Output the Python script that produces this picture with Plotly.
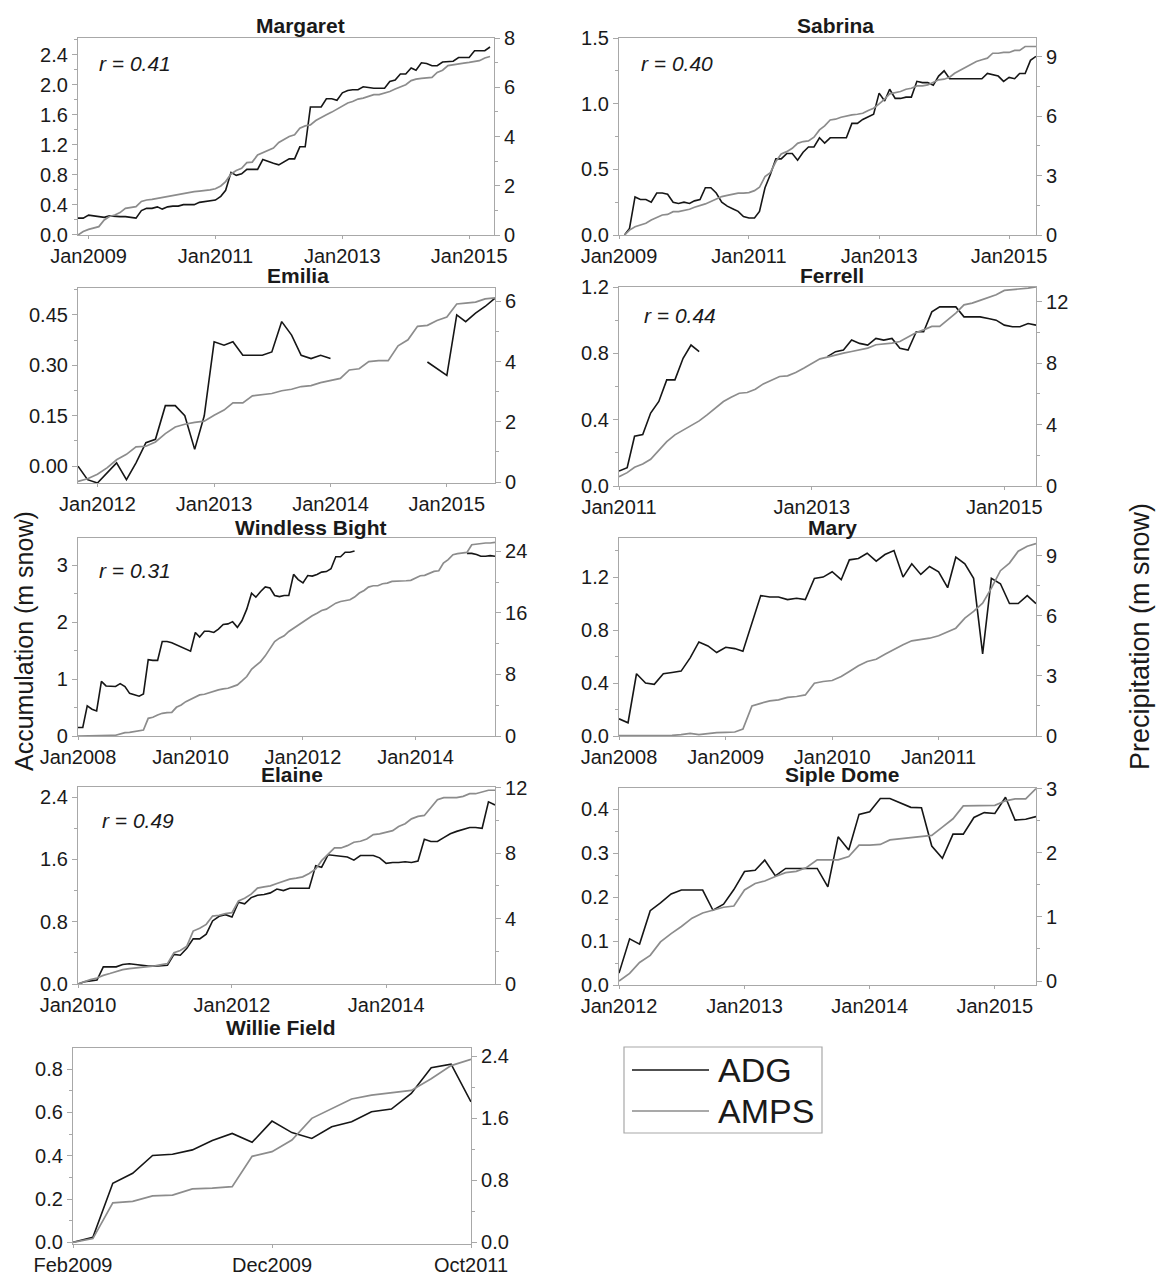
import plotly.graph_objects as go
import pandas as pd

W, H = 1161, 1275

# ------------------------------------------------------------------ data
# Margaret: monthly from Nov 2008
margaret_start = "2008-11-01"
margaret_adg = [0.22, 0.22, 0.26, 0.25, 0.25, 0.23, 0.25, 0.24, 0.24, 0.24, 0.23, 0.22, 0.32, 0.35,
                0.35, 0.37, 0.34, 0.37, 0.38, 0.38, 0.40, 0.40, 0.40, 0.43, 0.44, 0.44,
                0.46, 0.51, 0.59, 0.83, 0.79, 0.81, 0.87, 0.87, 0.87, 1.00, 0.97, 0.95,
                0.93, 0.97, 1.01, 1.01, 1.17, 1.17, 1.70, 1.70, 1.70, 1.81, 1.81, 1.79,
                1.89, 1.92, 1.93, 1.93, 1.97, 1.96, 1.95, 1.95, 1.95, 2.04, 2.06, 2.14,
                2.14, 2.22, 2.19, 2.29, 2.28, 2.25, 2.25, 2.30, 2.31, 2.31, 2.36, 2.36,
                2.36, 2.45, 2.45, 2.45, 2.50]
margaret_amps = [0.00, 0.14, 0.23, 0.30, 0.34, 0.61, 0.75, 0.81, 0.91, 1.08, 1.10, 1.15, 1.36, 1.42,
                 1.45, 1.49, 1.52, 1.59, 1.61, 1.64, 1.70, 1.72, 1.76, 1.78, 1.79, 1.83,
                 1.88, 1.99, 2.17, 2.48, 2.62, 2.71, 2.94, 2.96, 3.25, 3.35, 3.43, 3.53,
                 3.76, 3.89, 4.00, 4.07, 4.34, 4.43, 4.47, 4.65, 4.75, 4.88, 4.99, 5.11,
                 5.25, 5.36, 5.42, 5.52, 5.56, 5.63, 5.70, 5.70, 5.76, 5.83, 5.93, 6.01,
                 6.10, 6.27, 6.33, 6.36, 6.37, 6.40, 6.60, 6.69, 6.88, 6.92, 6.96, 6.98,
                 7.01, 7.05, 7.08, 7.19, 7.25]

# Sabrina: monthly from Feb 2009
sabrina_start = "2009-02-01"
sabrina_adg = [0.00, 0.05, 0.29, 0.27, 0.27, 0.25, 0.32, 0.32, 0.31, 0.25, 0.24,
               0.25, 0.24, 0.26, 0.27, 0.36, 0.36, 0.32, 0.25, 0.22, 0.20, 0.18, 0.14,
               0.13, 0.13, 0.18, 0.36, 0.46, 0.58, 0.58, 0.62, 0.62, 0.57, 0.63, 0.67,
               0.67, 0.74, 0.70, 0.74, 0.74, 0.74, 0.74, 0.85, 0.85, 0.88, 0.90, 0.92,
               1.08, 1.02, 1.11, 1.04, 1.04, 1.05, 1.05, 1.17, 1.16, 1.16, 1.14, 1.21,
               1.25, 1.19, 1.19, 1.19, 1.19, 1.19, 1.19, 1.19, 1.23, 1.22, 1.21, 1.17,
               1.20, 1.19, 1.23, 1.23, 1.33, 1.36]
sabrina_amps = [0.00, 0.25, 0.42, 0.49, 0.59, 0.76, 0.89, 1.01, 1.04, 1.18, 1.18,
                1.23, 1.30, 1.40, 1.47, 1.57, 1.69, 1.80, 1.94, 2.00, 2.07, 2.11, 2.11,
                2.14, 2.24, 2.41, 2.95, 3.15, 3.71, 4.09, 4.21, 4.38, 4.63, 4.72, 4.75,
                4.94, 5.31, 5.51, 5.81, 5.85, 5.95, 6.02, 6.07, 6.10, 6.15, 6.29, 6.40,
                6.62, 6.86, 7.13, 7.20, 7.25, 7.36, 7.41, 7.53, 7.53, 7.58, 7.70, 7.84,
                7.87, 7.97, 8.17, 8.31, 8.48, 8.59, 8.76, 8.85, 8.93, 9.18, 9.18, 9.22,
                9.22, 9.32, 9.32, 9.52, 9.52, 9.52]

# Emilia: monthly from Nov 2011 (ADG gap Feb-Oct 2014)
emilia_start = "2011-11-01"
emilia_adg = [0.00, -0.04, -0.05, -0.02, 0.01, -0.04, 0.01, 0.07, 0.08, 0.18, 0.18, 0.15, 0.05, 0.15,
              0.37, 0.36, 0.37, 0.33, 0.33, 0.33, 0.34, 0.43, 0.39, 0.33, 0.32, 0.33,
              0.32, None, None, None, None, None, None, None, None, None, 0.31, 0.29,
              0.27, 0.45, 0.43, 0.455, 0.475, 0.50]
emilia_amps = [0.02, 0.11, 0.26, 0.48, 0.74, 0.92, 1.17, 1.19, 1.33, 1.61, 1.83, 1.92, 1.98, 2.02,
               2.22, 2.39, 2.63, 2.63, 2.86, 2.89, 2.94, 3.03, 3.08, 3.17, 3.20, 3.30,
               3.37, 3.44, 3.72, 3.76, 4.00, 4.03, 4.03, 4.52, 4.72, 5.17, 5.20, 5.36,
               5.48, 5.91, 5.94, 5.97, 6.08, 6.11]

# Ferrell: monthly from Jan 2011 (ADG gap Dec 2011 - Feb 2013)
ferrell_start = "2011-01-01"
ferrell_adg = [0.09, 0.11, 0.30, 0.31, 0.44, 0.51, 0.64, 0.64, 0.77, 0.85, 0.81,
               None, None, None, None, None, None, None, None, None, None, None, None, None, None, None,
               0.78, 0.81, 0.82, 0.88, 0.86, 0.85, 0.89, 0.88, 0.89, 0.83,
               0.82, 0.93, 0.93, 1.05, 1.08, 1.08, 1.08, 1.02, 1.02, 1.02, 1.01, 1.00,
               0.97, 0.96, 0.96, 0.98, 0.97]
ferrell_amps = [0.61, 0.87, 1.22, 1.43, 1.74, 2.35, 2.89, 3.33, 3.65, 3.93, 4.24, 4.63,
                5.07, 5.50, 5.78, 6.04, 6.09, 6.30, 6.65, 6.91, 7.13, 7.17, 7.39, 7.67,
                7.96, 8.28, 8.39, 8.54, 8.65, 8.76, 8.87, 8.98, 9.20, 9.26, 9.30, 9.41,
                9.70, 10.00, 10.17, 10.39, 10.39, 10.83, 11.26, 11.80, 11.91, 12.09, 12.30, 12.46,
                12.74, 12.78, 12.83, 12.89, 12.96]

# Windless Bight: monthly from Jan 2008 (ADG gap Jan 2013 - Nov 2014)
windless_start = "2008-01-01"
windless_adg = [0.15, 0.15, 0.53, 0.47, 0.44, 0.96, 0.88, 0.87, 0.87, 0.92, 0.87, 0.75,
                0.72, 0.70, 0.74, 1.34, 1.33, 1.33, 1.66, 1.66, 1.64, 1.60, 1.57, 1.53,
                1.49, 1.82, 1.74, 1.84, 1.84, 1.82, 1.88, 1.96, 1.97, 2.01, 1.91, 2.03,
                2.23, 2.51, 2.44, 2.54, 2.62, 2.60, 2.47, 2.45, 2.47, 2.47, 2.84, 2.75,
                2.69, 2.82, 2.81, 2.84, 2.88, 2.89, 2.94, 3.15, 3.15, 3.23, 3.23, 3.25,
                None, None, None, None, None, None, None, None, None, None, None, None,
                None, None, None, None, None, None, None, None, None, None, None,
                3.21, 3.21, 3.19, 3.16, 3.16, 3.17, 3.16]
windless_amps = [0.00, 0.00, 0.00, 0.00, 0.00, 0.02, 0.05, 0.08, 0.10, 0.26, 0.43, 0.48,
                 0.56, 0.65, 0.78, 2.30, 2.43, 2.73, 2.95, 3.04, 3.08, 3.73, 4.04, 4.47,
                 4.77, 5.12, 5.34, 5.43, 5.64, 5.77, 5.99, 6.12, 6.21, 6.42, 6.64, 7.16,
                 7.73, 8.68, 9.11, 9.68, 10.42, 11.41, 12.28, 12.72, 13.02, 13.59, 14.02, 14.45,
                 14.89, 15.32, 15.63, 15.97, 16.32, 16.49, 16.93, 17.27, 17.49, 17.62, 17.71, 18.06,
                 18.58, 18.92, 19.36, 19.53, 19.53, 19.79, 19.88, 20.10, 20.10, 20.18, 20.18, 20.23,
                 20.53, 20.83, 20.88, 21.18, 21.40, 21.48, 22.48, 22.92, 23.57, 23.70, 23.78, 23.87,
                 24.87, 24.96, 25.00, 25.09, 25.09, 25.17]

# Mary: monthly from Jan 2008
mary_start = "2008-01-01"
mary_adg = [0.13, 0.10, 0.47, 0.40, 0.39, 0.47, 0.48, 0.49, 0.59, 0.71, 0.68, 0.63,
            0.67, 0.66, 0.64, 0.85, 1.06, 1.05, 1.05, 1.03, 1.04, 1.03, 1.19, 1.20,
            1.24, 1.18, 1.33, 1.34, 1.38, 1.32, 1.37, 1.40, 1.20, 1.30, 1.22, 1.28,
            1.24, 1.12, 1.35, 1.30, 1.19, 0.62, 1.19, 1.15, 1.00, 1.00, 1.06, 1.00]
mary_amps = [0.02, 0.02, 0.02, 0.03, 0.03, 0.03, 0.03, 0.07, 0.13, 0.07, 0.12, 0.17,
             0.18, 0.20, 0.35, 1.50, 1.63, 1.75, 1.80, 1.93, 1.97, 2.05, 2.63, 2.72,
             2.77, 2.97, 3.22, 3.50, 3.72, 3.83, 4.08, 4.33, 4.55, 4.75, 4.80, 4.88,
             5.00, 5.22, 5.38, 5.88, 6.22, 6.63, 7.38, 8.25, 8.63, 9.22, 9.47, 9.60]

# Elaine: monthly from Jan 2010
elaine_start = "2010-01-01"
elaine_adg = [0.00, 0.03, 0.04, 0.05, 0.22, 0.22, 0.22, 0.25, 0.26, 0.25, 0.24, 0.23,
              0.23, 0.24, 0.24, 0.38, 0.37, 0.46, 0.58, 0.58, 0.64, 0.81, 0.87, 0.89,
              0.86, 1.05, 1.03, 1.11, 1.14, 1.15, 1.17, 1.22, 1.20, 1.23, 1.23, 1.23,
              1.23, 1.52, 1.50, 1.66, 1.65, 1.64, 1.63, 1.59, 1.65, 1.65, 1.65, 1.62,
              1.55, 1.56, 1.56, 1.57, 1.56, 1.58, 1.86, 1.83, 1.83, 1.88, 1.93, 1.96,
              1.99, 2.01, 2.01, 2.00, 2.34, 2.30]
elaine_amps = [0.00, 0.16, 0.27, 0.37, 0.53, 0.64, 0.78, 0.88, 0.94, 0.98, 1.03, 1.05,
               1.11, 1.19, 1.25, 1.91, 2.05, 2.32, 3.24, 3.41, 3.65, 4.16, 4.21, 4.31,
               4.37, 5.09, 5.25, 5.50, 5.87, 5.95, 6.01, 6.15, 6.28, 6.42, 6.48, 6.56,
               6.77, 7.04, 7.55, 7.96, 8.33, 8.33, 8.47, 8.68, 8.74, 8.88, 9.15, 9.19,
               9.29, 9.39, 9.64, 9.81, 10.11, 10.26, 10.32, 10.79, 11.28, 11.41, 11.41, 11.41,
               11.49, 11.65, 11.65, 11.75, 11.86, 11.86]

# Siple Dome: monthly from Jan 2012
siple_start = "2012-01-01"
siple_adg = [0.027, 0.105, 0.093, 0.169, 0.187, 0.207, 0.216, 0.216, 0.216, 0.170, 0.184, 0.217,
             0.258, 0.261, 0.284, 0.248, 0.265, 0.265, 0.265, 0.265, 0.223, 0.337, 0.307, 0.388,
             0.394, 0.424, 0.424, 0.413, 0.404, 0.403, 0.316, 0.288, 0.343, 0.343, 0.381, 0.392,
             0.390, 0.427, 0.375, 0.377, 0.383]
siple_amps = [0.00, 0.12, 0.29, 0.40, 0.61, 0.74, 0.85, 0.98, 1.06, 1.11, 1.15, 1.17,
              1.42, 1.52, 1.56, 1.63, 1.69, 1.71, 1.77, 1.89, 1.89, 1.89, 1.94, 2.12,
              2.12, 2.13, 2.20, 2.22, 2.23, 2.26, 2.27, 2.40, 2.53, 2.73, 2.73, 2.74,
              2.74, 2.81, 2.84, 2.84, 3.00]

# Willie Field: irregular samples plotted by index
willie_ticktext = ["Feb2009", "Dec2009", "Oct2011"]
willie_tickidx = [0, 10, 20]
willie_adg = [0.000, 0.023, 0.273, 0.319, 0.401, 0.407, 0.427, 0.470, 0.503, 0.462, 0.560,
              0.507, 0.480, 0.534, 0.557, 0.603, 0.616, 0.688, 0.807, 0.823, 0.649]
willie_amps = [0.00, 0.05, 0.51, 0.53, 0.60, 0.61, 0.69, 0.70, 0.72, 1.11, 1.17,
               1.32, 1.60, 1.73, 1.85, 1.90, 1.93, 1.96, 2.11, 2.28, 2.36]

r_values = {"Margaret": "0.41", "Sabrina": "0.40", "Ferrell": "0.44",
            "Windless Bight": "0.31", "Elaine": "0.49"}

# ------------------------------------------------------------------ layout spec
BLACK = "#161616"
GRAY = "#8c8c8c"
AXC = "#a8a8a8"
FONT = "Liberation Sans, Arial, sans-serif"

panels = [
    dict(name="Margaret", start=margaret_start, adg=margaret_adg, amps=margaret_amps,
         px=(78, 494), py=(38, 235), xr=("2008-11-01", "2015-05-24"), xt0="2009-01-01", xdt="M24",
         yl=(-0.005, 2.62), ydt=0.4, yfmt=".1f", ymin=0.2, yr=(0, 8.0), y2dt=2, y2fmt="d", y2min=1,
         title_xy=(300, 25), r_xy=(97, 64)),
    dict(name="Sabrina", start=sabrina_start, adg=sabrina_adg, amps=sabrina_amps,
         px=(619, 1036), py=(38, 235), xr=("2009-01-01", "2015-06-01"), xt0="2009-01-01", xdt="M24",
         yl=(0, 1.5), ydt=0.5, yfmt=".1f", ymin=0.25, yr=(0, 9.95), y2dt=3, y2fmt="d", y2min=1.5,
         title_xy=(835, 25), r_xy=(639, 64)),
    dict(name="Emilia", start=emilia_start, adg=emilia_adg, amps=emilia_amps,
         px=(78, 495), py=(288, 483), xr=("2011-11-01", "2015-06-01"), xt0="2012-01-01", xdt="M12",
         yl=(-0.05, 0.53), ydt=0.15, yfmt=".2f", ymin=0.075, yr=(-0.03, 6.44), y2dt=2, y2fmt="d", y2min=1,
         title_xy=(298, 275), r_xy=None),
    dict(name="Ferrell", start=ferrell_start, adg=ferrell_adg, amps=ferrell_amps,
         px=(619, 1036), py=(287, 486), xr=("2011-01-01", "2015-05-01"), xt0="2011-01-01", xdt="M24",
         yl=(0, 1.2), ydt=0.4, yfmt=".1f", ymin=0.2, yr=(0, 12.96), y2dt=4, y2fmt="d", y2min=2,
         title_xy=(832, 275), r_xy=(642, 315)),
    dict(name="Windless Bight", start=windless_start, adg=windless_adg, amps=windless_amps,
         px=(78, 495), py=(538, 736), xr=("2008-01-01", "2015-06-01"), xt0="2008-01-01", xdt="M24",
         yl=(0, 3.48), ydt=1, yfmt="d", ymin=0.5, yr=(0, 25.74), y2dt=8, y2fmt="d", y2min=4,
         title_xy=(310, 527), r_xy=(97, 570)),
    dict(name="Mary", start=mary_start, adg=mary_adg, amps=mary_amps,
         px=(619, 1036), py=(538, 736), xr=("2008-01-01", "2011-12-01"), xt0="2008-01-01", xdt="M12",
         yl=(0, 1.495), ydt=0.4, yfmt=".1f", ymin=0.2, yr=(0, 9.88), y2dt=3, y2fmt="d", y2min=1.5,
         title_xy=(832, 527), r_xy=None),
    dict(name="Elaine", start=elaine_start, adg=elaine_adg, amps=elaine_amps,
         px=(78, 495), py=(787, 984), xr=("2010-01-01", "2015-06-01"), xt0="2010-01-01", xdt="M24",
         yl=(0, 2.53), ydt=0.8, yfmt=".1f", ymin=0.4, yr=(0, 12.06), y2dt=4, y2fmt="d", y2min=2,
         title_xy=(292, 775), r_xy=(100, 820)),
    dict(name="Siple Dome", start=siple_start, adg=siple_adg, amps=siple_amps,
         px=(619, 1036), py=(788, 985), xr=("2012-01-01", "2015-05-01"), xt0="2012-01-01", xdt="M12",
         yl=(0, 0.448), ydt=0.1, yfmt=".1f", ymin=0.05, yr=(-0.062, 3.01), y2dt=1, y2fmt="d", y2min=0.5,
         title_xy=(842, 775), r_xy=None),
    dict(name="Willie Field", start=None, adg=willie_adg, amps=willie_amps,
         px=(73, 471), py=(1048, 1244), xr=(0, 20), xt0=None, xdt=None,
         yl=(-0.008, 0.898), ydt=0.2, yfmt=".1f", ymin=0.1, yr=(-0.02, 2.507), y2dt=0.8, y2fmt=".1f", y2min=0.4,
         title_xy=(281, 1027), r_xy=None),
]


def fx(px):
    return px / W


def fy(py):
    return 1 - py / H


fig = go.Figure()
layout = {}
annotations = []
tickfont = dict(family=FONT, size=20, color="#1a1a1a")

for i, p in enumerate(panels, start=1):
    xid = "x" if i == 1 else f"x{i}"
    yl_id = "y" if i == 1 else f"y{2 * i - 1}"
    yr_id = f"y{2 * i}"
    n = len(p["adg"])
    if p["start"] is not None:
        xs = pd.date_range(p["start"], periods=n, freq="MS")
    else:
        xs = list(range(n))

    fig.add_trace(go.Scatter(x=xs, y=p["adg"], mode="lines", name="ADG",
                             line=dict(color=BLACK, width=1.6), connectgaps=False,
                             showlegend=False, xaxis=xid, yaxis=yl_id))
    fig.add_trace(go.Scatter(x=xs, y=p["amps"], mode="lines", name="AMPS",
                             line=dict(color=GRAY, width=1.7),
                             showlegend=False, xaxis=xid, yaxis=yr_id))

    xdom = [fx(p["px"][0]), fx(p["px"][1])]
    ydom = [fy(p["py"][1]), fy(p["py"][0])]

    xax = dict(domain=xdom, anchor=yl_id, range=list(p["xr"]), showline=True, linecolor=AXC,
               linewidth=1.2, mirror=True, ticks="outside", ticklen=3, tickcolor=AXC,
               showgrid=False, zeroline=False, tickfont=tickfont, automargin=False)
    if p["start"] is not None:
        xax.update(type="date", tickformat="%b%Y", tick0=p["xt0"], dtick=p["xdt"])
    else:
        xax.update(type="linear", tickmode="array", tickvals=willie_tickidx, ticktext=willie_ticktext)

    yax_l = dict(domain=ydom, anchor=xid, range=list(p["yl"]), tick0=0, dtick=p["ydt"],
                 tickformat=p["yfmt"], showline=True, linecolor=AXC, linewidth=1.2,
                 ticks="outside", ticklen=5, tickcolor=AXC, showgrid=False, zeroline=False,
                 tickfont=tickfont, automargin=False,
                 minor=dict(dtick=p["ymin"], tick0=0, ticks="outside", ticklen=3,
                            tickcolor=AXC, showgrid=False))
    yax_r = dict(domain=ydom, anchor=xid, overlaying=yl_id, side="right", range=list(p["yr"]),
                 tick0=0, dtick=p["y2dt"], tickformat=p["y2fmt"], showline=True, linecolor=AXC,
                 linewidth=1.2, ticks="outside", ticklen=5, tickcolor=AXC, showgrid=False,
                 zeroline=False, tickfont=tickfont, automargin=False,
                 minor=dict(dtick=p["y2min"], tick0=0, ticks="outside", ticklen=3,
                            tickcolor=AXC, showgrid=False))

    layout["xaxis" if i == 1 else f"xaxis{i}"] = xax
    layout["yaxis" if i == 1 else f"yaxis{2 * i - 1}"] = yax_l
    layout[f"yaxis{2 * i}"] = yax_r

    tx, ty = p["title_xy"]
    annotations.append(dict(text=f"<b>{p['name']}</b>", x=fx(tx), y=fy(ty), xref="paper",
                            yref="paper", xanchor="center", yanchor="middle", showarrow=False,
                            font=dict(family=FONT, size=21, color="#1a1a1a")))
    if p["r_xy"] is not None:
        rx, ry = p["r_xy"]
        annotations.append(dict(text=f"<i>r = {r_values[p['name']]}</i>", x=fx(rx), y=fy(ry),
                                xref="paper", yref="paper", xanchor="left", yanchor="middle",
                                showarrow=False, font=dict(family=FONT, size=21, color="#1a1a1a")))

# axis titles
annotations.append(dict(text="Accumulation (m snow)", x=fx(24), y=fy(641), xref="paper",
                        yref="paper", textangle=-90, showarrow=False, xanchor="center",
                        yanchor="middle", font=dict(family=FONT, size=25, color="#1a1a1a")))
annotations.append(dict(text="Precipitation (m snow)", x=fx(1140), y=fy(637), xref="paper",
                        yref="paper", textangle=-90, showarrow=False, xanchor="center",
                        yanchor="middle", font=dict(family=FONT, size=27, color="#1a1a1a")))

# legend (drawn box)
shapes = [
    dict(type="rect", xref="paper", yref="paper", x0=fx(624), x1=fx(822), y0=fy(1133), y1=fy(1047),
         line=dict(color="#a8a8a8", width=1.2), fillcolor="white"),
    dict(type="line", xref="paper", yref="paper", x0=fx(632), x1=fx(709), y0=fy(1070), y1=fy(1070),
         line=dict(color=BLACK, width=1.6)),
    dict(type="line", xref="paper", yref="paper", x0=fx(632), x1=fx(709), y0=fy(1111), y1=fy(1111),
         line=dict(color=GRAY, width=1.7)),
]
annotations.append(dict(text="ADG", x=fx(716), y=fy(1070), xref="paper", yref="paper",
                        xanchor="left", yanchor="middle", showarrow=False,
                        font=dict(family=FONT, size=34, color="#1a1a1a")))
annotations.append(dict(text="AMPS", x=fx(716), y=fy(1111), xref="paper", yref="paper",
                        xanchor="left", yanchor="middle", showarrow=False,
                        font=dict(family=FONT, size=34, color="#1a1a1a")))

layout.update(dict(template="none", width=W, height=H, margin=dict(l=0, r=0, t=0, b=0, pad=0),
                   paper_bgcolor="white", plot_bgcolor="white", showlegend=False,
                   annotations=annotations, shapes=shapes, font=dict(family=FONT)))
fig.update_layout(**layout)
fig.write_html("out.html")
